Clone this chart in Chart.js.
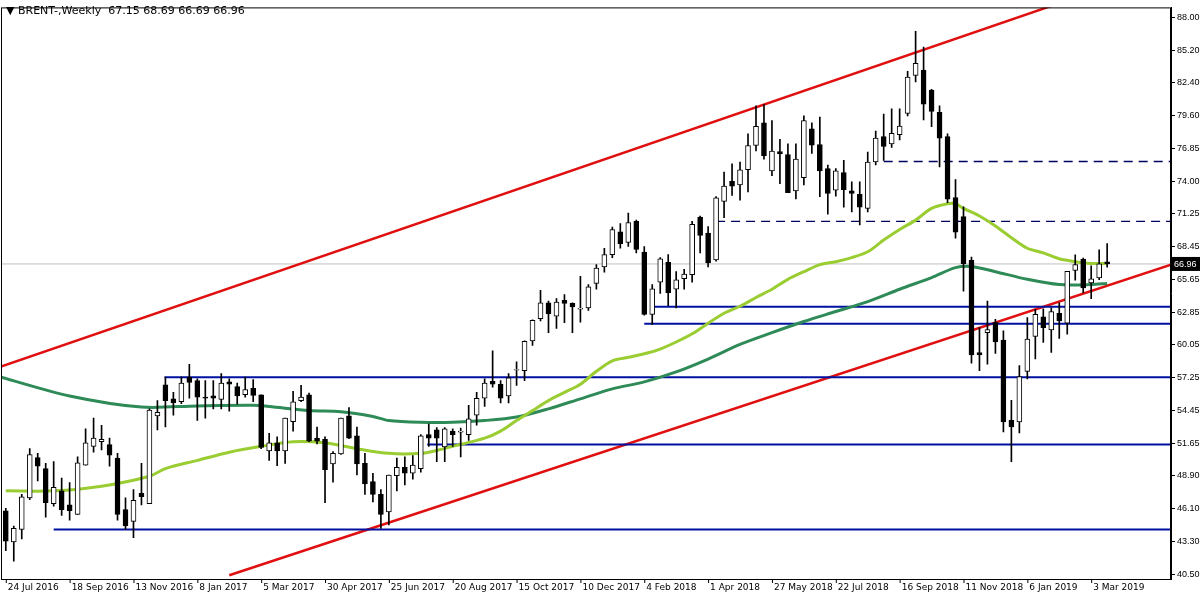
<!DOCTYPE html>
<html><head><meta charset="utf-8">
<script src="https://cdn.jsdelivr.net/npm/chart.js@4.4.1/dist/chart.umd.min.js"></script>
<style>
html,body{margin:0;padding:0;background:#fff;}
#wrap{position:relative;width:1200px;height:600px;}
#title{position:absolute;left:6px;top:4px;font:11px "DejaVu Sans",sans-serif;color:#000;white-space:pre;}
</style></head>
<body><div id="wrap"><canvas id="c" width="1200" height="600"></canvas><div id="title">▼ BRENT-,Weekly  67.15 68.69 66.69 66.96</div></div>
<script>
const dateLabels=["24 Jul 2016","18 Sep 2016","13 Nov 2016","8 Jan 2017","5 Mar 2017","30 Apr 2017","25 Jun 2017","20 Aug 2017","15 Oct 2017","10 Dec 2017","4 Feb 2018","1 Apr 2018","27 May 2018","22 Jul 2018","16 Sep 2018","11 Nov 2018","6 Jan 2019","3 Mar 2019"];
const yTicks=[88.00,85.20,82.40,79.60,76.85,74.00,71.25,68.45,65.65,62.85,60.05,57.25,54.45,51.65,48.90,46.10,43.30,40.50];
const openP=[45.9,43.25,44.3,47.0,50.45,49.5,46.5,47.6,46.4,45.6,49.8,51.4,51.8,51.55,50.4,46.0,45.0,47.4,46.5,54.0,56.65,55.45,55.2,57.3,57.0,55.6,55.7,55.4,56.9,56.5,55.8,56.35,55.8,51.0,51.7,51.0,53.5,55.3,55.8,52.1,52.0,49.9,50.75,54.0,52.3,49.95,48.4,47.3,45.8,48.9,49.6,49.1,49.5,52.4,52.8,51.35,52.7,52.6,52.4,54.05,55.5,56.95,56.7,55.7,57.9,57.85,60.4,62.3,63.65,62.5,63.85,63.6,63.1,63.2,65.3,66.7,67.75,69.7,68.8,70.6,67.98,62.66,65.4,67.1,64.8,65.7,66.05,70.95,69.6,67.3,72.3,74.0,73.7,75.0,77.07,79.0,74.9,76.55,76.3,73.2,74.33,78.5,77.15,75.1,73.25,74.75,73.2,72.9,71.7,75.66,77.83,77.2,78.0,79.8,83.05,83.5,81.8,79.9,77.83,72.63,71.0,67.26,59.4,61.1,61.95,60.46,53.62,53.48,57.8,60.77,62.44,61.33,62.74,61.9,66.4,67.38,65.35,65.77,67.15];
const highP=[46.1,44.6,47.3,51.2,50.8,49.95,50.1,48.7,48.3,50.5,52.9,53.8,53.2,52.1,50.8,47.0,47.7,49.95,54.6,55.3,57.3,56.0,57.3,58.4,57.15,57.0,57.0,57.6,57.15,56.8,57.3,57.1,55.8,52.5,52.2,53.8,56.1,56.6,55.95,53.05,52.2,50.95,53.8,54.7,53.05,50.8,49.1,47.7,48.95,50.4,50.5,50.6,52.4,53.3,53.0,53.0,52.9,52.95,54.9,56.0,57.15,59.55,57.0,57.6,58.6,60.4,62.2,64.7,63.8,64.0,64.35,63.65,65.9,65.2,66.9,68.3,70.1,70.4,71.3,70.7,68.45,65.2,67.5,67.75,66.3,66.5,70.6,71.05,70.15,72.7,74.8,75.5,75.65,78.06,80.46,80.55,79.2,77.6,77.2,77.2,79.6,79.0,79.5,75.4,75.1,75.8,73.96,73.96,76.5,78.3,79.75,80.2,80.2,83.4,86.8,85.46,81.87,80.46,78.06,74.16,71.84,67.55,61.53,63.79,62.24,61.25,55.32,58.28,62.38,63.08,63.14,63.22,63.65,66.33,67.74,67.46,66.81,68.17,68.69];
const lowP=[42.5,41.6,43.5,46.85,48.45,45.35,46.3,45.5,45.1,45.6,49.8,50.9,51.1,49.7,45.1,44.3,43.6,46.4,46.5,52.8,53.05,54.05,55.05,55.5,53.6,53.8,54.6,54.6,54.4,55.0,55.6,55.2,51.2,50.2,49.75,49.95,52.7,55.2,51.8,51.6,46.6,48.35,50.7,52.05,48.95,47.3,46.65,44.4,44.7,47.6,48.1,48.6,49.2,51.4,50.1,50.1,51.4,50.5,51.9,53.2,54.8,56.45,55.1,55.1,56.6,57.0,60.0,62.1,61.1,61.45,61.95,61.1,62.0,63.0,64.8,66.25,67.5,68.3,68.45,67.9,62.6,61.8,64.45,63.4,63.2,64.8,65.4,67.9,66.7,67.2,70.9,72.8,72.4,73.1,76.6,75.9,74.5,73.8,73.05,72.5,73.7,76.4,72.7,71.2,72.75,71.8,71.4,70.3,71.4,75.4,75.8,76.9,77.55,79.6,82.5,79.24,78.68,75.23,72.18,69.16,64.64,58.5,57.86,58.42,59.33,52.63,50.09,52.55,57.15,58.85,60.26,59.41,60.6,60.96,65.57,64.5,63.99,65.63,66.69];
const closeP=[43.3,44.4,47.1,50.7,49.7,46.6,47.9,46.0,45.9,50.0,51.7,52.1,52.0,50.65,45.6,44.6,46.8,47.1,54.5,54.3,55.3,55.1,56.8,56.85,55.6,55.5,55.5,56.8,56.7,55.7,56.25,55.75,51.3,51.7,51.0,53.8,55.2,55.6,51.85,51.85,49.4,50.8,53.8,52.1,49.9,48.2,47.3,45.6,48.95,49.6,49.1,49.8,52.3,52.1,52.1,52.9,52.4,52.7,53.75,55.5,56.8,56.7,55.5,57.25,57.95,60.35,62.15,63.65,62.7,63.7,63.6,63.3,63.2,65.0,66.6,67.75,69.9,68.7,70.5,68.2,62.66,64.84,67.4,64.5,65.6,66.1,70.35,69.4,67.04,72.6,73.6,73.6,75.0,77.07,78.7,76.2,76.6,76.35,73.05,75.9,79.2,77.1,74.9,72.97,74.9,73.3,72.98,71.8,75.66,77.7,76.98,78.1,78.73,82.9,84.07,80.6,79.98,77.7,72.49,69.67,66.98,59.19,59.19,61.37,60.3,53.48,53.06,57.35,60.54,62.66,61.53,62.89,62.1,66.33,66.9,64.92,65.69,66.98,66.96];
const maFastIdx=[0,6,12,18,20,24,28,32,36,40,44,48,52,54,56,60,62,64,66,68,70,72,74,76,78,80,82,84,86,88,90,92,94,96,98,100,102,104,106,108,110,112,114,116,118,119,120,122,124,126,128,130,132,134,136,138];
const maFastVal=[47.6,47.6,48.0,48.85,49.5,50.2,50.9,51.4,51.8,51.7,51.2,50.8,50.8,51.05,51.4,52.1,52.7,53.6,54.45,55.3,56.0,56.7,57.8,58.7,59.0,59.3,59.7,60.3,61.0,61.9,62.75,63.35,64.1,64.8,65.65,66.3,66.9,67.15,67.5,68.0,69.0,69.9,70.7,71.7,72.1,72.1,71.7,71.05,70.2,69.2,68.3,67.9,67.4,67.15,67.0,67.0];
const maSlowIdx=[-0.6,8,17,24,31,33,38,42,46,48,52,56,60,64,68,72,76,80,84,88,92,96,100,104,108,112,116,119,121,124,128,132,136,138];
const maSlowVal=[57.3,55.7,54.75,54.85,54.9,54.8,54.45,54.35,53.95,53.6,53.45,53.45,53.6,53.9,54.6,55.45,56.3,56.9,57.75,58.85,60.1,61.1,62.05,62.9,63.75,64.8,65.8,66.65,66.75,66.3,65.65,65.2,65.2,65.3];
const supportLevels=[44.3,51.55,57.3,61.85,63.3];
const supportStart=[6,52.8,19.9,80,81];
const resistLevels=[70.6,75.7];
const resistStart=[89,110];
const channelUpper=[[-0.6,58.2],[131.1,89.0]];
const channelLower=[[28,40.4],[146,66.9]];
const lastPrice=66.96;
const XMIN=-0.6, XMAX=146;

const idx=openP.map((_,i)=>i);
const wicks=idx.map(i=>({x:i,y:[lowP[i],highP[i]]}));
const bodies=idx.map(i=>({x:i,y:[Math.min(openP[i],closeP[i]),Math.max(openP[i],closeP[i])+(openP[i]===closeP[i]?0.05:0)]}));
const bodyColor=idx.map(i=>closeP[i]>=openP[i]?'#ffffff':'#000000');

const ds=[];
ds.push({type:'line',data:channelUpper.map(p=>({x:p[0],y:p[1]})),borderColor:'#e01010',borderWidth:2.5,pointRadius:0,order:5});
ds.push({type:'line',data:channelLower.map(p=>({x:p[0],y:p[1]})),borderColor:'#e01010',borderWidth:2.5,pointRadius:0,order:5});
supportLevels.forEach((v,k)=>ds.push({type:'line',data:[{x:supportStart[k],y:v},{x:XMAX,y:v}],borderColor:'#0010a0',borderWidth:2,pointRadius:0,order:4}));
resistLevels.forEach((v,k)=>ds.push({type:'line',data:[{x:resistStart[k],y:v},{x:XMAX,y:v}],borderColor:'#000060',borderWidth:1.3,borderDash:[9,6],pointRadius:0,order:4}));
ds.push({type:'line',data:[{x:XMIN,y:lastPrice},{x:XMAX,y:lastPrice}],borderColor:'#c0c0c0',borderWidth:1,pointRadius:0,order:6});
ds.push({type:'line',data:maFastIdx.map((x,k)=>({x,y:maFastVal[k]})),borderColor:'#9acd32',borderWidth:3,pointRadius:0,tension:0.3,order:3});
ds.push({type:'line',data:maSlowIdx.map((x,k)=>({x,y:maSlowVal[k]})),borderColor:'#2e8b57',borderWidth:3,pointRadius:0,tension:0.3,order:3});
ds.push({type:'bar',data:wicks,backgroundColor:'#000',barThickness:1,grouped:false,order:2});
ds.push({type:'bar',data:bodies,backgroundColor:bodyColor,borderColor:'#000',borderWidth:1,borderSkipped:false,barThickness:5,grouped:false,order:1});

const FONT='9px "DejaVu Sans"';
const frame={id:'frame',afterDraw(ch){const a=ch.chartArea,c=ch.ctx,xs=ch.scales.x;c.save();c.strokeStyle='#000';c.lineWidth=1;c.strokeRect(a.left+0.5,a.top+0.5,a.right-a.left-1,a.bottom-a.top);
c.fillStyle='#000';c.font=FONT;c.textBaseline='top';c.textAlign='left';
dateLabels.forEach((t,k)=>{const x=xs.getPixelForValue(k*8);c.beginPath();c.moveTo(x+0.5,a.bottom);c.lineTo(x+0.5,a.bottom+4);c.stroke();c.fillText(t,x+2,a.bottom+4);});
const y=ch.scales.y.getPixelForValue(lastPrice);c.fillRect(a.right+1,y-7,28,14);c.fillStyle='#fff';c.textBaseline='middle';c.font='9px "Liberation Sans"';c.fillText(lastPrice.toFixed(2),a.right+3,y+0.5);c.restore();}};

new Chart(document.getElementById('c'),{type:'bar',data:{datasets:ds},plugins:[frame],
options:{responsive:false,animation:false,devicePixelRatio:1,layout:{padding:{top:4,left:1,right:0,bottom:13}},
plugins:{legend:{display:false},tooltip:{enabled:false}},
scales:{
x:{type:'linear',min:XMIN,max:XMAX,offset:false,ticks:{display:false},
 grid:{display:false},border:{color:'#000'}},
y:{position:'right',min:40.08,max:88.85,
 afterBuildTicks:s=>{s.ticks=yTicks.map(v=>({value:v}));},
 ticks:{color:'#000',font:{size:9,family:'Liberation Sans'},padding:2,callback:v=>v.toFixed(2)},
 grid:{drawOnChartArea:false,color:'#000',tickLength:4},border:{color:'#000'},afterFit:s=>{s.width=29;}}
}}});
</script></body></html>
